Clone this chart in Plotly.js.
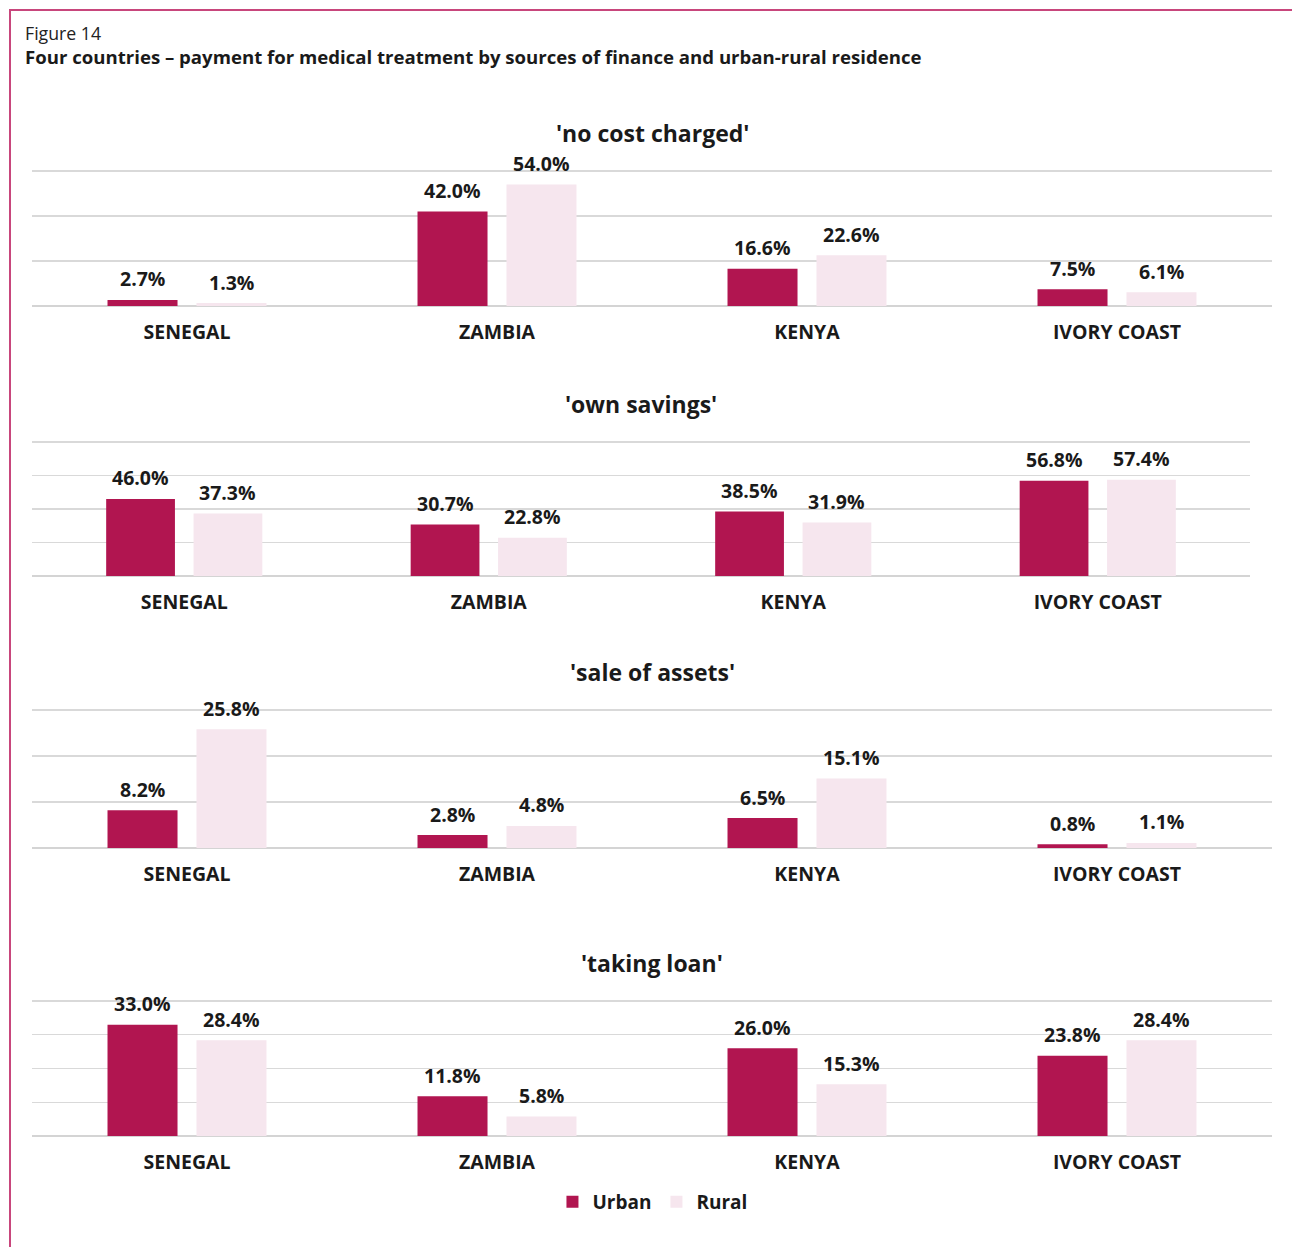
<!DOCTYPE html>
<html><head><meta charset="utf-8">
<script src="https://cdn.plot.ly/plotly-3.0.1.min.js"></script>
<style>
html,body{margin:0;padding:0;background:#fff;}
#wrap{position:relative;width:1292px;height:1247px;overflow:hidden;}
#chart{width:1292px;height:1247px;}
#frame{position:absolute;left:9px;top:9px;right:-5px;bottom:-5px;border-left:2px solid #c8467c;border-top:2px solid #c8467c;pointer-events:none;}
</style></head><body>
<div id="wrap"><div id="chart"></div><div id="frame"></div></div>
<script>
// ---- data ----
const countries = ['SENEGAL', 'ZAMBIA', 'KENYA', 'IVORY COAST'];
const seriesNames = ['Urban', 'Rural'];
const panelTitles = ["'no cost charged'", "'own savings'", "'sale of assets'", "'taking loan'"];
const noCostUrban = [2.7, 42.0, 16.6, 7.5];
const noCostRural = [1.3, 54.0, 22.6, 6.1];
const savingsUrban = [46.0, 30.7, 38.5, 56.8];
const savingsRural = [37.3, 22.8, 31.9, 57.4];
const assetsUrban = [8.2, 2.8, 6.5, 0.8];
const assetsRural = [25.8, 4.8, 15.1, 1.1];
const loanUrban = [33.0, 11.8, 26.0, 23.8];
const loanRural = [28.4, 5.8, 15.3, 28.4];

const panelData = [
  [noCostUrban, noCostRural],
  [savingsUrban, savingsRural],
  [assetsUrban, assetsRural],
  [loanUrban, loanRural]
];

// ---- styles / layout geometry ----
const W = 1292, H = 1247;
const colors = ['#b11550', '#f6e6ee'];
const FONT = 'Open Sans, Noto Sans, sans-serif';
const TXT = '#1a1a1a';
const BARGAP = 0.426, GROUPGAP = 0.213;
// pixel boxes of each plot area [left, right, top, bottom]
const boxes = [
  [32, 1272, 171, 306],
  [32, 1250, 442, 576],
  [32, 1272, 710, 848],
  [32, 1272, 1001, 1136]
];
const ranges = [[0, 60, 20], [0, 80, 20], [0, 30, 10], [0, 40, 10]];
const EXT = 0.012; // small headroom so the top gridline is drawn

const traces = [];
const annotations = [];
const layout = {
  width: W, height: H,
  margin: {l: 0, r: 0, t: 0, b: 0},
  paper_bgcolor: '#fff', plot_bgcolor: '#fff',
  barmode: 'group', bargap: BARGAP, bargroupgap: GROUPGAP,
  font: {family: FONT, color: TXT, size: 17},
  showlegend: true,
  legend: {orientation: 'h', x: 0.505, xanchor: 'center', y: 1 - 1202 / H, yanchor: 'middle',
           font: {family: FONT, size: 19, weight: 700, color: TXT}, itemclick: false, traceorder: 'normal'},
  annotations: annotations
};

panelData.forEach((pair, p) => {
  const n = p === 0 ? '' : String(p + 1);
  const [l, r, t, b] = boxes[p];
  const tt = t - (b - t) * EXT;
  layout['xaxis' + n] = {
    domain: [l / W, r / W], anchor: 'y' + n, type: 'category',
    showgrid: false, showline: false, zeroline: false, ticks: '',
    ticklabelstandoff: 12,
    tickfont: {family: FONT, size: 19.5, weight: 700, color: TXT},
    fixedrange: true
  };
  layout['yaxis' + n] = {
    domain: [1 - b / H, 1 - tt / H], anchor: 'x' + n,
    range: [ranges[p][0], ranges[p][1] * (1 + EXT)], dtick: ranges[p][2], tick0: 0,
    showgrid: true, gridcolor: '#d9d9d9', gridwidth: 1.3,
    zeroline: true, zerolinecolor: '#d4d4d4', zerolinewidth: 1.5,
    showticklabels: false, ticks: '', fixedrange: true
  };
  const slot = (r - l) / countries.length * (1 - BARGAP) / 2;
  pair.forEach((vals, k) => {
    traces.push({
      type: 'bar', name: seriesNames[k], x: countries, y: vals,
      xaxis: 'x' + n, yaxis: 'y' + n,
      marker: {color: colors[k]},
      showlegend: p === 0, legendgroup: seriesNames[k],
      hoverinfo: 'skip'
    });
    vals.forEach((v, i) => {
      annotations.push({
        xref: 'x' + n, yref: 'y' + n, x: countries[i], y: v,
        text: v.toFixed(1) + '%', showarrow: false,
        xshift: (k === 0 ? -1 : 1) * slot / 2, yshift: 21, yanchor: 'middle',
        font: {family: FONT, size: 19.5, weight: 700, color: TXT}
      });
    });
  });
  annotations.push({
    xref: 'paper', yref: 'paper', x: ((l + r) / 2) / W, y: 1 - (t - 38) / H,
    text: panelTitles[p], showarrow: false, xanchor: 'center', yanchor: 'middle',
    font: {family: FONT, size: 23, weight: 700, color: TXT}
  });
});

annotations.push({
  xref: 'paper', yref: 'paper', x: 23 / W, y: 1 - 33 / H, xanchor: 'left', yanchor: 'middle',
  text: 'Figure 14', showarrow: false, font: {family: FONT, size: 17.7, color: '#222'}
});
annotations.push({
  xref: 'paper', yref: 'paper', x: 23 / W, y: 1 - 56 / H, xanchor: 'left', yanchor: 'middle',
  text: 'Four countries – payment for medical treatment by sources of finance and urban-rural residence',
  showarrow: false, font: {family: FONT, size: 18.6, weight: 700, color: TXT}
});

Plotly.newPlot('chart', traces, layout, {displayModeBar: false, staticPlot: true});
</script>
</body></html>
